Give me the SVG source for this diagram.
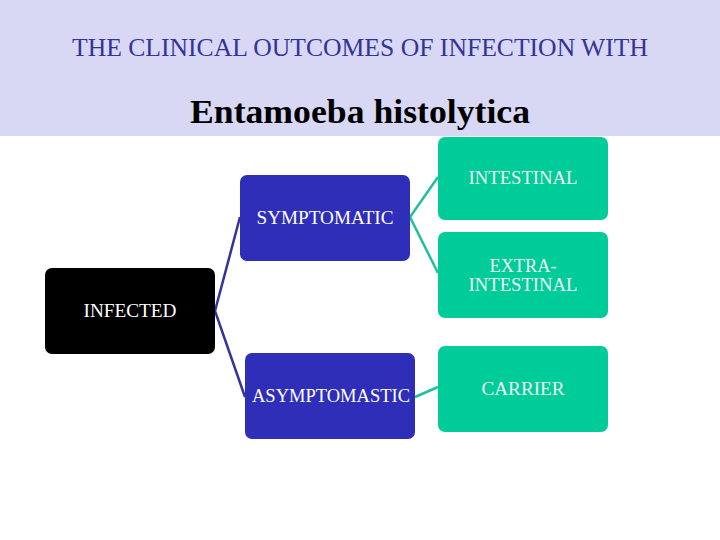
<svg xmlns="http://www.w3.org/2000/svg" width="720" height="540" viewBox="0 0 720 540">
<style>
.t{font-family:"Liberation Serif","Times New Roman",serif;}
.lbl{font-family:"Liberation Serif","Times New Roman",serif;font-size:18px;text-anchor:middle;}
.w{fill:#ffffff;}
.lt{fill:#eef4f2;}
.blue{fill:#2e2eb8;}
.teal{fill:#00cc99;}
.cb{stroke:#333399;stroke-width:2.5;fill:none;}
.ct{stroke:#20bfa0;stroke-width:2.5;fill:none;}
</style>
<rect x="0" y="0" width="720" height="540" fill="#ffffff"/>
<rect x="0" y="0" width="720" height="136" fill="#d8d8f4"/>
<text class="t" x="360" y="56" font-size="25" fill="#333399" text-anchor="middle" textLength="576" lengthAdjust="spacingAndGlyphs">THE CLINICAL OUTCOMES OF INFECTION WITH</text>
<text class="t" x="360" y="123" font-size="33" font-weight="bold" fill="#000000" text-anchor="middle" textLength="340" lengthAdjust="spacingAndGlyphs">Entamoeba histolytica</text>
<g id="connectors">
<polyline class="cb" points="240,217 215,311 245,397"/>
<polyline class="ct" points="438,177 410,217 438,273"/>
<line class="ct" x1="415" y1="397" x2="438" y2="387"/>
</g>
<g id="infected">
<rect x="45" y="268" width="170" height="86" rx="7" fill="#000000"/>
<text class="lbl w" x="130" y="317" textLength="93" lengthAdjust="spacingAndGlyphs">INFECTED</text>
</g>
<g id="symptomatic">
<rect class="blue" x="240" y="175" width="170" height="86" rx="7"/>
<text class="lbl w" x="325" y="224" textLength="137" lengthAdjust="spacingAndGlyphs">SYMPTOMATIC</text>
</g>
<g id="asymptomastic">
<rect class="blue" x="245" y="353" width="170" height="86" rx="7"/>
<text class="lbl w" x="331" y="402" textLength="158" lengthAdjust="spacingAndGlyphs">ASYMPTOMASTIC</text>
</g>
<g id="intestinal">
<rect class="teal" x="438" y="137" width="170" height="83" rx="7"/>
<text class="lbl lt" x="523" y="184" textLength="109" lengthAdjust="spacingAndGlyphs">INTESTINAL</text>
</g>
<g id="extra-intestinal">
<rect class="teal" x="438" y="232" width="170" height="86" rx="7"/>
<text class="lbl lt" x="523" y="272" textLength="67" lengthAdjust="spacingAndGlyphs">EXTRA-</text>
<text class="lbl lt" x="523" y="291" textLength="109" lengthAdjust="spacingAndGlyphs">INTESTINAL</text>
</g>
<g id="carrier">
<rect class="teal" x="438" y="346" width="170" height="86" rx="7"/>
<text class="lbl lt" x="523" y="395" textLength="83" lengthAdjust="spacingAndGlyphs">CARRIER</text>
</g>
</svg>
